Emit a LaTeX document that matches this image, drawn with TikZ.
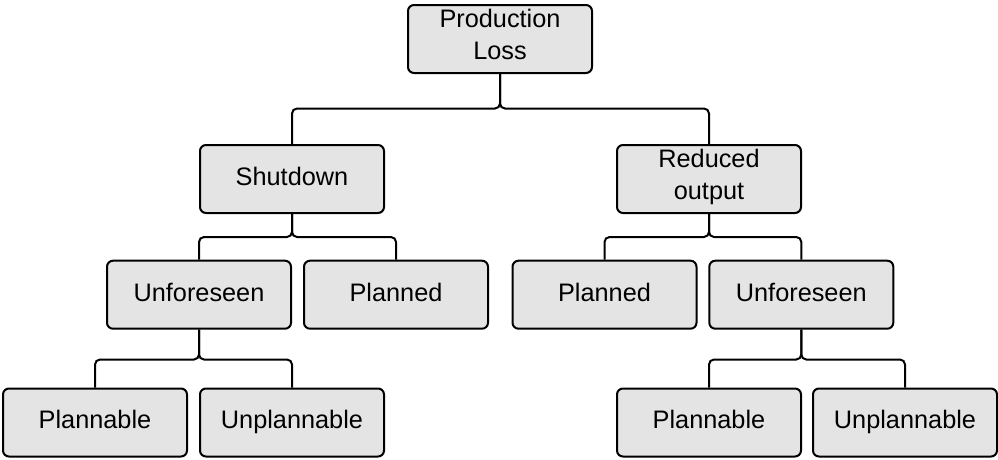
\documentclass[tikz,border=0pt]{standalone}
\usepackage{fontspec}
\setmainfont{Liberation Sans}
\definecolor{boxfill}{HTML}{E4E4E4}
\begin{document}
\begin{tikzpicture}[x=1pt,y=-1pt,
  box/.style={draw=black, line width=2pt, fill=boxfill, rounded corners=6pt,
    minimum width=184pt, minimum height=68pt, inner sep=0pt, align=center,
    font=\fontsize{25.3pt}{31.5pt}\selectfont,
    execute at begin node=\strut, execute at end node=\strut},
  link/.style={draw=black, line width=2pt, rounded corners=5pt}]
\useasboundingbox (0,0) rectangle (998,459);
\node[box] (pl) at (500,39) {Production\\Loss};
\node[box] (sd) at (292,179) {Shutdown};
\node[box] (ro) at (709,179) {Reduced\\output};
\node[box] (ufl) at (199,294.7) {Unforeseen};
\node[box] (pll) at (396,294.7) {Planned};
\node[box] (plr) at (604.5,294.7) {Planned};
\node[box] (ufr) at (801.3,294.7) {Unforeseen};
\node[box] (pbl) at (95,422.5) {Plannable};
\node[box] (upl) at (292,422.5) {Unplannable};
\node[box] (pbr) at (709,422.5) {Plannable};
\node[box] (upr) at (905,422.5) {Unplannable};
\coordinate (j0) at (500,108.5);
\coordinate (j1) at (292,237);
\coordinate (j2) at (709,237);
\coordinate (j3) at (199,359.5);
\coordinate (j4) at (801.3,359.5);
\draw[link] (pl.south) -- (j0) -| (sd.north);
\draw[link] (pl.south) -- (j0) -| (ro.north);
\draw[link] (sd.south) -- (j1) -| (ufl.north);
\draw[link] (sd.south) -- (j1) -| (pll.north);
\draw[link] (ro.south) -- (j2) -| (plr.north);
\draw[link] (ro.south) -- (j2) -| (ufr.north);
\draw[link] (ufl.south) -- (j3) -| (pbl.north);
\draw[link] (ufl.south) -- (j3) -| (upl.north);
\draw[link] (ufr.south) -- (j4) -| (pbr.north);
\draw[link] (ufr.south) -- (j4) -| (upr.north);
\end{tikzpicture}
\end{document}
